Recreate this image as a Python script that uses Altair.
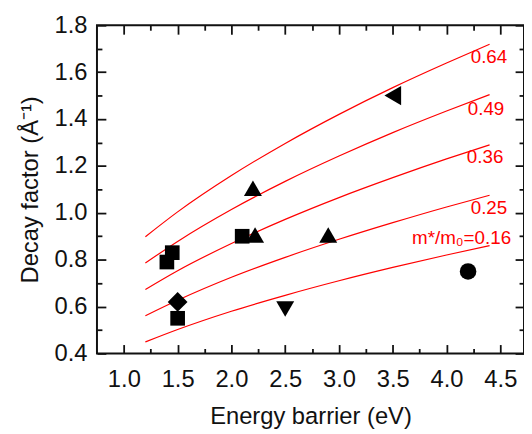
import altair as alt
import pandas as pd

# ---- measured data points ----
pt_x = [1.40, 1.45, 1.50, 2.10, 1.50, 2.20, 2.22, 2.90, 2.50, 3.50, 4.20]
pt_y = [0.79, 0.83, 0.55, 0.90, 0.62, 1.105, 0.905, 0.905, 0.59, 1.50, 0.75]
pt_kind = ["square", "square", "square", "square", "diamond", "triangle-up",
           "triangle-up", "triangle-up", "triangle-down", "triangle-left", "circle"]

# ---- red curves ----
curve_x = [1.2, 1.5, 2.0, 2.5, 3.0, 3.5, 4.0, 4.4]
curve_016 = [0.449, 0.502, 0.580, 0.648, 0.710, 0.767, 0.820, 0.860]
curve_025 = [0.561, 0.627, 0.725, 0.810, 0.887, 0.958, 1.025, 1.075]
curve_036 = [0.673, 0.753, 0.869, 0.972, 1.065, 1.150, 1.230, 1.290]
curve_049 = [0.786, 0.878, 1.014, 1.134, 1.242, 1.342, 1.434, 1.504]
curve_064 = [0.898, 1.004, 1.159, 1.296, 1.420, 1.534, 1.639, 1.719]

label_text = ["0.64", "0.49", "0.36", "0.25", "m*/m\u2080=0.16"]
label_x = [4.564, 4.537, 4.528, 4.564, 4.60]
label_y = [1.665, 1.441, 1.239, 1.019, 0.893]

x_major = [1.0, 1.5, 2.0, 2.5, 3.0, 3.5, 4.0, 4.5]
x_minor = [1.25, 1.75, 2.25, 2.75, 3.25, 3.75, 4.25]
y_major = [0.4, 0.6, 0.8, 1.0, 1.2, 1.4, 1.6, 1.8]
y_minor = [0.5, 0.7, 0.9, 1.1, 1.3, 1.5, 1.7]

W, H = 432, 332
FONT = "Liberation Sans"

pts = pd.DataFrame({"x": pt_x, "y": pt_y, "kind": pt_kind})
curves = []
for name, ys in [("0.16", curve_016), ("0.25", curve_025), ("0.36", curve_036),
                 ("0.49", curve_049), ("0.64", curve_064)]:
    for xv, yv in zip(curve_x, ys):
        curves.append({"x": xv, "y": yv, "m": name})
curves = pd.DataFrame(curves)
labels = pd.DataFrame({"x": label_x, "y": label_y, "t": label_text})

xs = alt.Scale(domain=[0.75, 4.72], nice=False, zero=False)
ys_ = alt.Scale(domain=[0.4, 1.8], nice=False, zero=False)


def tick_axis(orient, offset, values, size):
    return alt.Axis(orient=orient, offset=offset, values=values, tickSize=size,
                    labels=False, domain=False, title=None, grid=False,
                    tickColor="#111", tickWidth=1.8)


lines = alt.Chart(curves).mark_line(color="#ff0000", strokeWidth=1.2,
                                    interpolate="monotone").encode(
    x=alt.X("x:Q", scale=xs, axis=alt.Axis(
        orient="bottom", values=x_major, format=".1f", tickSize=0, domain=False,
        labelFontSize=24, labelPadding=14, labelFont=FONT, labelColor="#111",
        title="Energy barrier (eV)", titleFontSize=24, titleFont=FONT,
        titleFontWeight="normal", titlePadding=14, titleColor="#111", grid=False)),
    y=alt.Y("y:Q", scale=ys_, axis=alt.Axis(
        orient="left", values=y_major, format=".1f", tickSize=0, domain=False,
        labelFontSize=24, labelPadding=10, labelFont=FONT, labelColor="#111",
        title="Decay factor (\u00c5\u207b\u00b9)", titleFontSize=24, titleFont=FONT,
        titleFontWeight="normal", titlePadding=12, titleColor="#111", grid=False)),
    detail="m:N",
)

shape_dom = ["square", "diamond", "triangle-up", "triangle-down", "triangle-left", "circle"]
points = alt.Chart(pts).mark_point(filled=True, opacity=1, color="black").encode(
    x=alt.X("x:Q", scale=xs, axis=tick_axis("top", -H, x_major, 9)),
    y=alt.Y("y:Q", scale=ys_, axis=tick_axis("right", -W, y_major, 9)),
    shape=alt.Shape("kind:N", scale=alt.Scale(domain=shape_dom, range=shape_dom), legend=None),
    size=alt.Size("kind:N", scale=alt.Scale(
        type="ordinal", domain=shape_dom, range=[220, 400, 330, 330, 380, 280]), legend=None),
)

dummy = alt.Chart(pts).mark_point(opacity=0)
d1 = dummy.encode(
    x=alt.X("x:Q", scale=xs, axis=tick_axis("bottom", -H, x_major, 9)),
    y=alt.Y("y:Q", scale=ys_, axis=tick_axis("left", -W, y_major, 9)),
)
d2 = dummy.encode(
    x=alt.X("x:Q", scale=xs, axis=tick_axis("top", -H, x_minor, 5)),
    y=alt.Y("y:Q", scale=ys_, axis=tick_axis("right", -W, y_minor, 5)),
)
d3 = dummy.encode(
    x=alt.X("x:Q", scale=xs, axis=tick_axis("bottom", -H, x_minor, 5)),
    y=alt.Y("y:Q", scale=ys_, axis=tick_axis("left", -W, y_minor, 5)),
)

texts = alt.Chart(labels).mark_text(color="#ff0000", fontSize=19, font=FONT,
                                    align="right", baseline="middle").encode(
    x=alt.X("x:Q", scale=xs, axis=None),
    y=alt.Y("y:Q", scale=ys_, axis=None),
    text="t:N",
)

chart = alt.layer(lines, points, d1, d2, d3, texts).resolve_axis(
    x="independent", y="independent"
).properties(
    width=W, height=H,
    autosize=alt.AutoSizeParams(type="none"),
    padding={"left": 90, "top": 15, "right": 0, "bottom": 79},
    background="white",
).configure_view(stroke="#111", strokeWidth=2)

chart.save("out.html", embed_options={"renderer": "svg", "actions": False})
